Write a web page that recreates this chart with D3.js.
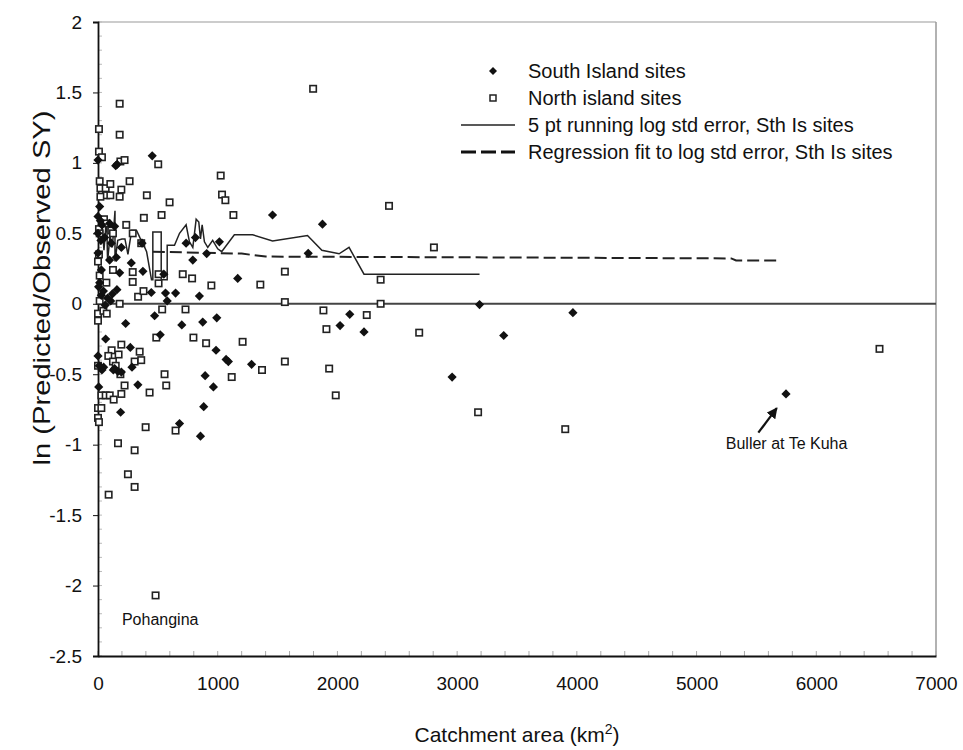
<!DOCTYPE html>
<html><head><meta charset="utf-8">
<script src="https://cdn.jsdelivr.net/npm/d3@7"></script>
<style>body{margin:0;background:#fff;} svg{display:block;font-family:"Liberation Sans",Arial,sans-serif;}</style>
</head><body>
<svg id="chart" width="963" height="750"></svg>
<script>
// ---------- data ----------
const xTicks = [0, 1000, 2000, 3000, 4000, 5000, 6000, 7000];
const yTicks = [2, 1.5, 1, 0.5, 0, -0.5, -1, -1.5, -2, -2.5];

const southIsland = [
  [0,1.02],[148,0.98],[160,0.99],[453,1.05],
  [14,0.69],[0,0.62],[20,0.59],[33,0.56],[97,0.57],[139,0.55],[0,0.50],[56,0.47],[25,0.45],
  [111,0.43],[195,0.40],[0,0.36],[97,0.31],[153,0.33],[28,0.24],[181,0.22],[14,0.15],[158,0.10],
  [120,0.07],[106,0.02],[28,0.06],[60,-0.01],[5,0.12],[45,0.09],[80,0.04],
  [278,0.29],[375,0.23],[368,0.43],[550,0.21],
  [736,0.43],[814,0.47],[792,0.31],[908,0.356],[1014,0.44],[1167,0.18],
  [445,0.08],[564,0.076],[578,0.02],[648,0.076],[847,0.055],
  [1458,0.63],[1875,0.565],[1756,0.358],
  [473,-0.085],[700,-0.15],[875,-0.13],[992,-0.10],[231,-0.14],[64,-0.25],[520,-0.22],[270,-0.31],
  [986,-0.33],[0,-0.37],[284,-0.45],[47,-0.45],[33,-0.47],[139,-0.46],[167,-0.48],[195,-0.485],
  [128,-0.47],[10,-0.44],
  [1070,-0.395],[1089,-0.41],[1283,-0.43],[895,-0.51],[964,-0.59],[333,-0.575],[6,-0.59],
  [883,-0.73],[189,-0.77],[681,-0.85],[856,-0.94],
  [2103,-0.075],[2022,-0.155],[2222,-0.20],[3187,-0.006],[2958,-0.52],[3389,-0.225],[3967,-0.063],
  [5747,-0.64]
];

const northIsland = [
  [8,1.24],[8,1.08],[33,1.04],[181,1.42],[181,1.20],[187,1.01],[222,1.02],[503,0.99],
  [1025,0.91],[1036,0.775],[1064,0.735],[1131,0.63],[264,0.87],[14,0.87],[20,0.82],[64,0.82],
  [103,0.85],[67,0.77],[103,0.77],[20,0.76],[195,0.81],[181,0.76],[408,0.77],[598,0.72],
  [383,0.61],[531,0.63],[236,0.56],[50,0.60],[70,0.57],[8,0.53],[14,0.50],[111,0.52],[125,0.50],
  [290,0.50],[361,0.43],[8,0.35],[0,0.30],[14,0.20],[125,0.24],[70,0.15],[290,0.225],[290,0.155],
  [506,0.21],[506,0.145],[708,0.21],[786,0.18],[947,0.13],[335,0.05],[380,0.09],[181,0.0],[14,0.02],
  [536,-0.04],[731,-0.04],
  [1797,1.526],[2431,0.695],[2806,0.40],[1561,0.228],[1356,0.136],[2361,0.171],[1561,0.012],[2361,0.0],
  [0,-0.07],[0,-0.12],[45,-0.05],[73,-0.07],[487,-0.24],[797,-0.24],[903,-0.28],[1208,-0.27],
  [195,-0.29],[114,-0.33],[172,-0.36],[86,-0.37],[125,-0.41],[148,-0.44],[348,-0.34],[306,-0.41],
  [361,-0.40],[0,-0.44],[187,-0.50],[556,-0.50],[570,-0.58],[222,-0.58],[195,-0.64],[431,-0.63],
  [28,-0.65],[64,-0.65],[98,-0.65],[131,-0.68],[0,-0.74],[28,-0.74],[0,-0.81],[8,-0.84],
  [1117,-0.52],[398,-0.876],[648,-0.90],[167,-0.99],[306,-1.04],[250,-1.21],[306,-1.30],[89,-1.355],
  [1883,-0.047],[2245,-0.08],[1908,-0.18],[2683,-0.205],[1370,-0.47],[1561,-0.41],[1931,-0.46],
  [1986,-0.65],[3175,-0.77],[3903,-0.89],[6528,-0.32],[481,-2.07]
];

const runningLine = [
  [20,0.42],[35,0.55],[50,0.38],[72,0.62],[80,0.30],[100,0.48],[120,0.40],[142,0.66],[142,0.30],
  [165,0.45],[200,0.46],[225,0.46],[250,0.35],[281,0.52],[322,0.52],[350,0.47],[380,0.42],[406,0.37],
  [447,0.17],[458,0.17],[458,0.51],[528,0.51],[528,0.17],[578,0.17],[578,0.415],[639,0.415],
  [681,0.50],[736,0.56],[764,0.44],[792,0.40],[820,0.60],[842,0.58],[856,0.46],[870,0.56],
  [889,0.44],[917,0.40],[958,0.45],[1000,0.39],[1033,0.37],[1139,0.49],[1292,0.49],[1458,0.445],
  [1750,0.485],[1870,0.38],[2014,0.355],[2097,0.40],[2222,0.21],[3187,0.21]
];

const regressionLine = [
  [458,0.37],[1200,0.356],[1400,0.335],[3000,0.33],[5290,0.322],[5330,0.307],[5690,0.307]
];

const legendLabels = [
  "South Island sites",
  "North island sites",
  "5 pt running log std error, Sth Is sites",
  "Regression fit to log std error, Sth Is sites"
];

const annotations = [
  {text: "Pohangina", x: 200, y: -2.24},
  {text: "Buller at Te Kuha", x: 5244, y: -0.99}
];
const arrowFrom = [5516, -0.915];
const arrowTo = [5670, -0.74];

// ---------- drawing ----------
const svg = d3.select("#chart");
const L = 98, R = 936, T = 22, B = 656;
const x = d3.scaleLinear().domain([0, 7000]).range([L, R]);
const y = d3.scaleLinear().domain([-2.5, 2]).range([B, T]);

const defs = svg.append("defs");
defs.append("marker").attr("id", "arrow").attr("viewBox", "0 0 10 10")
  .attr("refX", 9).attr("refY", 5).attr("markerWidth", 5).attr("markerHeight", 5)
  .attr("orient", "auto")
  .append("path").attr("d", "M0,0 L10,5 L0,10 Z").attr("fill", "#111");

// frame (top/right)
svg.append("line").attr("x1", L).attr("x2", R).attr("y1", T).attr("y2", T)
  .attr("stroke", "#999").attr("stroke-width", 1.2);
svg.append("line").attr("x1", R).attr("x2", R).attr("y1", T).attr("y2", B)
  .attr("stroke", "#999").attr("stroke-width", 1.5);

// minor ticks
const xMinor = d3.range(0, 7001, 200);
svg.append("g").selectAll("line").data(xMinor).join("line")
  .attr("x1", d => x(d)).attr("x2", d => x(d)).attr("y1", B).attr("y2", B - 5)
  .attr("stroke", "#aaa").attr("stroke-width", 1);
const yMinor = d3.range(-25, 21, 1).map(d => d / 10);
svg.append("g").selectAll("line").data(yMinor).join("line")
  .attr("x1", L).attr("x2", L + 4).attr("y1", d => y(d)).attr("y2", d => y(d))
  .attr("stroke", "#bbb").attr("stroke-width", 1);

// zero line
svg.append("line").attr("x1", x(0)).attr("x2", x(7000)).attr("y1", y(0)).attr("y2", y(0))
  .attr("stroke", "#444").attr("stroke-width", 2);

// axes
const yAxis = svg.append("g").attr("transform", `translate(${L},0)`)
  .call(d3.axisLeft(y).tickValues(yTicks).tickSize(5).tickPadding(11).tickFormat(d => String(d)));
const xAxis = svg.append("g").attr("transform", `translate(0,${B})`)
  .call(d3.axisBottom(x).tickValues(xTicks).tickSize(0).tickPadding(21).tickFormat(d => String(d)));
[yAxis, xAxis].forEach(g => {
  g.select(".domain").attr("stroke", "#111").attr("stroke-width", 1.8);
  g.selectAll(".tick line").attr("stroke", "#111").attr("stroke-width", 1);
  g.selectAll("text").attr("font-size", 19).attr("fill", "#111")
    .attr("font-family", '"Liberation Sans",Arial,sans-serif');
});

// lines
const lineGen = d3.line().x(d => x(d[0])).y(d => y(d[1]));
svg.append("path").datum(regressionLine).attr("d", lineGen)
  .attr("fill", "none").attr("stroke", "#222").attr("stroke-width", 2)
  .attr("stroke-dasharray", "12,5");
svg.append("path").datum(runningLine).attr("d", lineGen)
  .attr("fill", "none").attr("stroke", "#222").attr("stroke-width", 1.5);

// markers
const diamond = r => `M0,${-r}L${r},0L0,${r}L${-r},0Z`;
svg.append("g").selectAll("rect").data(northIsland).join("rect")
  .attr("x", d => x(d[0]) - 3.2).attr("y", d => y(d[1]) - 3.2)
  .attr("width", 6.4).attr("height", 6.4)
  .attr("fill", "#fff").attr("stroke", "#222").attr("stroke-width", 1.6);
svg.append("g").selectAll("path").data(southIsland).join("path")
  .attr("d", diamond(4.6))
  .attr("transform", d => `translate(${x(d[0])},${y(d[1])})`)
  .attr("fill", "#111");

// legend
const lg = svg.append("g");
const rowY = i => 71 + i * 27;
lg.append("path").attr("d", diamond(4)).attr("transform", `translate(493,${rowY(0)})`).attr("fill", "#111");
lg.append("rect").attr("x", 490).attr("y", rowY(1) - 3).attr("width", 6).attr("height", 6)
  .attr("fill", "#fff").attr("stroke", "#222").attr("stroke-width", 1.5);
lg.append("line").attr("x1", 461).attr("x2", 515).attr("y1", rowY(2)).attr("y2", rowY(2))
  .attr("stroke", "#222").attr("stroke-width", 1.5);
lg.append("line").attr("x1", 461).attr("x2", 515).attr("y1", rowY(3)).attr("y2", rowY(3))
  .attr("stroke", "#111").attr("stroke-width", 3).attr("stroke-dasharray", "15,5");
lg.selectAll("text").data(legendLabels).join("text")
  .attr("x", 528).attr("y", (d, i) => rowY(i)).attr("dy", "0.35em")
  .attr("font-size", 20).attr("fill", "#111").text(d => d);

// annotations
svg.append("g").selectAll("text").data(annotations).join("text")
  .attr("x", d => x(d.x)).attr("y", d => y(d.y)).attr("dy", "0.35em")
  .attr("font-size", 16).attr("fill", "#111").text(d => d.text);
svg.append("line")
  .attr("x1", x(arrowFrom[0])).attr("y1", y(arrowFrom[1]))
  .attr("x2", x(arrowTo[0])).attr("y2", y(arrowTo[1]))
  .attr("stroke", "#111").attr("stroke-width", 2.2).attr("marker-end", "url(#arrow)");

// axis titles
const xt = svg.append("text").attr("x", 517).attr("y", 742).attr("text-anchor", "middle")
  .attr("font-size", 21).attr("fill", "#111");
xt.append("tspan").text("Catchment area (km");
xt.append("tspan").attr("font-size", 14).attr("dy", -8).text("2");
xt.append("tspan").attr("dy", 8).text(")");

svg.append("text").attr("transform", "translate(50,288) rotate(-90)")
  .attr("text-anchor", "middle").attr("font-size", 24).attr("fill", "#111")
  .attr("textLength", 355).attr("lengthAdjust", "spacingAndGlyphs")
  .text("ln (Predicted/Observed SY)");
</script>
</body></html>
